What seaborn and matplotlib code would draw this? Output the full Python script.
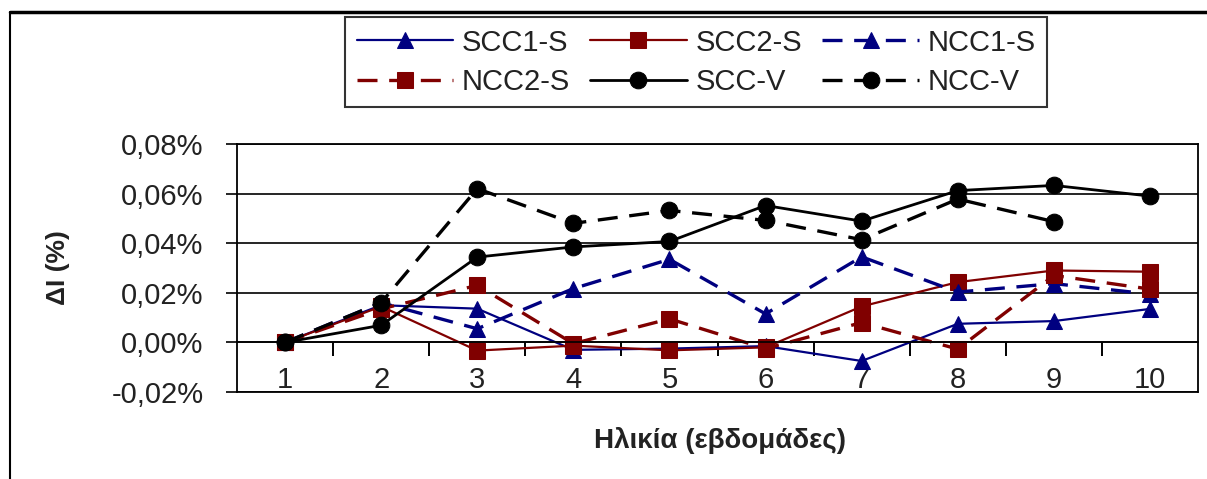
import numpy as np
import pandas as pd
import matplotlib
matplotlib.use("Agg")
import matplotlib.pyplot as plt
from matplotlib.lines import Line2D
from matplotlib.ticker import FuncFormatter, FixedLocator
import seaborn as sns

# ---- data ----
weeks = [1, 2, 3, 4, 5, 6, 7, 8, 9, 10]
scc1_s = [0, 0.0150, 0.0136, -0.0030, -0.0025, -0.0015, -0.0075, 0.0075, 0.0086, 0.0135]
scc2_s = [0, 0.0145, -0.0033, -0.0013, -0.0032, -0.0020, 0.0145, 0.0243, 0.0290, 0.0285]
ncc1_s = [0, 0.0160, 0.0055, 0.0217, 0.0335, 0.0115, 0.0345, 0.0203, 0.0237, 0.0195]
ncc2_s = [0, 0.0135, 0.0230, -0.0005, 0.0095, -0.0025, 0.0080, -0.0027, 0.0270, 0.0215]
scc_v = [0, 0.0069, 0.0344, 0.0385, 0.0407, 0.0552, 0.0489, 0.0612, 0.0633, 0.0590]
ncc_v = [0, 0.0160, 0.0620, 0.0480, 0.0532, 0.0492, 0.0414, 0.0578, 0.0487, np.nan]
series_names = ["SCC1-S", "SCC2-S", "NCC1-S", "NCC2-S", "SCC-V", "NCC-V"]
series_vals = [scc1_s, scc2_s, ncc1_s, ncc2_s, scc_v, ncc_v]
y_ticks = [-0.02, 0.0, 0.02, 0.04, 0.06, 0.08]
x_label = "Ηλικία (εβδομάδες)"
y_label = "ΔI (%)"

NAVY = "#000080"
DRED = "#800000"
styles = {
    "SCC1-S": dict(color=NAVY, marker="^", linestyle="-", lw=1.6),
    "SCC2-S": dict(color=DRED, marker="s", linestyle="-", lw=1.6),
    "NCC1-S": dict(color=NAVY, marker="^", linestyle=(0, (6, 3.5)), lw=2.4),
    "NCC2-S": dict(color=DRED, marker="s", linestyle=(0, (6, 3.5)), lw=2.4),
    "SCC-V": dict(color="black", marker="o", linestyle="-", lw=2.0),
    "NCC-V": dict(color="black", marker="o", linestyle=(0, (6, 3.5)), lw=2.4),
}
msize = {"^": 12, "s": 12, "o": 12}

sns.set_style("white")
plt.rcParams["font.family"] = ["Liberation Sans", "DejaVu Sans"]

fig = plt.figure(figsize=(12.07, 4.79), dpi=100)
W, H = 1207, 479
ax = fig.add_axes([237 / W, 1 - 392 / H, (1198 - 237) / W, (392 - 144) / H])

for name, vals in zip(series_names, series_vals):
    st = styles[name]
    sns.lineplot(x=weeks, y=vals, ax=ax, color=st["color"], marker=st["marker"],
                 linestyle=st["linestyle"], linewidth=st["lw"],
                 markersize=msize[st["marker"]], markeredgecolor=st["color"],
                 markerfacecolor=st["color"], label=name)

ax.set_xlim(0.5, 10.5)
ax.set_ylim(-0.02, 0.08)
ax.yaxis.set_major_locator(FixedLocator(y_ticks))
ax.yaxis.set_major_formatter(FuncFormatter(lambda v, p: f"{v:.2f}%".replace(".", ",").replace("-0,00", "0,00")))
ax.grid(axis="y", color="black", lw=1.2)
ax.grid(axis="x", visible=False)
for s in ax.spines.values():
    s.set_visible(True)
    s.set_color("black")
    s.set_linewidth(1.3)
# category axis crosses at y = 0
ax.spines["bottom"].set_position(("data", 0))
ax.spines["bottom"].set_linewidth(1.2)
# plot-area bottom border at -0.02
ax.axhline(-0.02, color="black", lw=1.3, clip_on=False, zorder=0.5)

ax.tick_params(axis="y", left=True, direction="out", length=8, width=1.2, color="black",
               pad=16, labelsize=21, labelcolor="#222222")
ax.set_xticks(weeks)
ax.set_xticklabels([str(w) for w in weeks])
ax.tick_params(axis="x", which="major", bottom=False, length=0, pad=17,
               labelsize=21, labelcolor="#222222")
# tick marks between categories on the category axis (drawn as tick-down markers)
between = [w + 0.5 for w in weeks[:-1]]
ax.plot(between, [0] * len(between), linestyle="none", marker=3, markersize=10,
        markeredgewidth=1.4, color="black", zorder=1.5, label="_nolegend_")

ax.set_xlabel(x_label, fontsize=20, fontweight="bold", color="#222222")
ax.xaxis.set_label_coords(0.503, -0.194)
ax.xaxis.label.set_va("center")
ax.set_ylabel(y_label, fontsize=19, fontweight="bold", color="#222222")
ax.yaxis.set_label_coords(-0.186, 0.5)
ax.yaxis.label.set_va("center")

handles, labels = ax.get_legend_handles_labels()
if ax.get_legend() is not None:
    ax.get_legend().remove()
hmap = dict(zip(labels, handles))
order = ["SCC1-S", "NCC2-S", "SCC2-S", "SCC-V", "NCC1-S", "NCC-V"]
leg = fig.legend([hmap[k] for k in order], order, ncol=3, loc="upper left",
                 bbox_to_anchor=(345 / W, 1 - 17 / H), frameon=True, fancybox=False,
                 edgecolor="black", fontsize=21, handlelength=3.3, handletextpad=0.3,
                 columnspacing=0.7, labelspacing=0.38, borderpad=0.4, borderaxespad=0)
leg.get_frame().set_linewidth(1.5)
for t in leg.get_texts():
    t.set_color("#222222")

# outer chart frame (partially visible)
fig.add_artist(Line2D([10 / W, 10 / W], [0, 1 - 12 / H], transform=fig.transFigure, color="black", lw=1.5))
fig.add_artist(Line2D([10 / W, 1], [1 - 12 / H, 1 - 12 / H], transform=fig.transFigure, color="black", lw=2.5))

fig.savefig("out.png", dpi=100)
